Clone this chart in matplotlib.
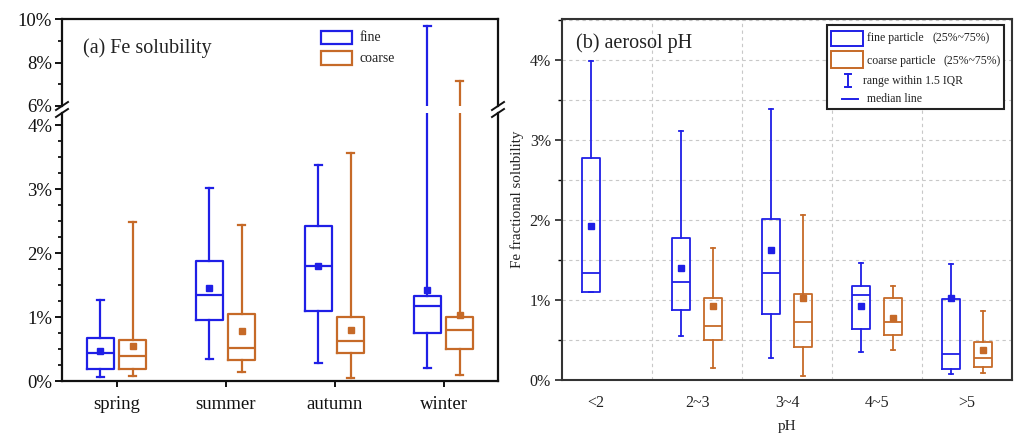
import matplotlib
matplotlib.use('Agg')
import matplotlib.pyplot as plt
from matplotlib.lines import Line2D
from matplotlib.patches import Rectangle
from matplotlib.ticker import MultipleLocator, FuncFormatter, FixedLocator

plt.rcParams['font.family'] = ['Liberation Serif', 'DejaVu Serif']

# ---------------- data: panel (a) Fe solubility by season (%) ----------------
seasons = ['spring', 'summer', 'autumn', 'winter']
a_fine_whislo = [0.07, 0.35, 0.28, 0.21]
a_fine_q1 = [0.18, 0.95, 1.10, 0.75]
a_fine_med = [0.43, 1.35, 1.80, 1.18]
a_fine_q3 = [0.68, 1.87, 2.43, 1.33]
a_fine_whishi = [1.27, 3.02, 3.38, 9.69]
a_fine_mean = [0.47, 1.46, 1.80, 1.42]

a_coarse_whislo = [0.08, 0.14, 0.05, 0.09]
a_coarse_q1 = [0.19, 0.33, 0.43, 0.50]
a_coarse_med = [0.39, 0.51, 0.62, 0.79]
a_coarse_q3 = [0.64, 1.05, 1.00, 1.00]
a_coarse_whishi = [2.48, 2.44, 3.56, 7.16]
a_coarse_mean = [0.55, 0.78, 0.79, 1.03]

# ---------------- data: panel (b) Fe solubility by aerosol pH (%) ----------------
ph_bins = ['<2', '2~3', '3~4', '4~5', '>5']
b_fine_whislo = [1.10, 0.55, 0.27, 0.35, 0.07]
b_fine_q1 = [1.10, 0.88, 0.83, 0.64, 0.14]
b_fine_med = [1.34, 1.23, 1.34, 1.06, 0.33]
b_fine_q3 = [2.77, 1.78, 2.01, 1.18, 1.01]
b_fine_whishi = [3.98, 3.11, 3.38, 1.46, 1.45]
b_fine_mean = [1.93, 1.40, 1.63, 0.93, 1.03]

b_coarse_whislo = [None, 0.15, 0.05, 0.37, 0.09]
b_coarse_q1 = [None, 0.50, 0.41, 0.56, 0.16]
b_coarse_med = [None, 0.68, 0.73, 0.72, 0.28]
b_coarse_q3 = [None, 1.03, 1.08, 1.02, 0.48]
b_coarse_whishi = [None, 1.65, 2.06, 1.18, 0.86]
b_coarse_mean = [None, 0.93, 1.02, 0.77, 0.37]

BLUE = '#1f1fe6'
ORANGE = '#c66a28'
TXT = '#222222'


def make_stats(lo, q1, med, q3, hi, mean, positions):
    stats, pos = [], []
    for i in range(len(med)):
        if med[i] is None:
            continue
        stats.append(dict(whislo=lo[i], q1=q1[i], med=med[i], q3=q3[i],
                          whishi=hi[i], mean=mean[i], fliers=[]))
        pos.append(positions[i])
    return stats, pos


def draw_boxes(ax, stats, pos, color, width, capw, lw, ms):
    ax.bxp(stats, positions=pos, widths=width, capwidths=capw,
           showmeans=True, showfliers=False, manage_ticks=False,
           boxprops=dict(color=color, lw=lw),
           whiskerprops=dict(color=color, lw=lw),
           capprops=dict(color=color, lw=lw),
           medianprops=dict(color=color, lw=lw),
           meanprops=dict(marker='s', markerfacecolor=color,
                          markeredgecolor=color, markersize=ms))


fig = plt.figure(figsize=(10.22, 4.45), dpi=100)
W, H = 1022.0, 445.0


def fbox(x0, y0, x1, y1):
    return [x0 / W, 1 - y1 / H, (x1 - x0) / W, (y1 - y0) / H]


# ---------------- panel (a): broken y axis ----------------
ax_up = fig.add_axes(fbox(62, 19, 498, 106))
ax_lo = fig.add_axes(fbox(62, 113, 498, 381))

xa = list(range(1, len(seasons) + 1))
off_a = 0.15
for ax in (ax_up, ax_lo):
    s, p = make_stats(a_fine_whislo, a_fine_q1, a_fine_med, a_fine_q3,
                      a_fine_whishi, a_fine_mean, [x - off_a for x in xa])
    draw_boxes(ax, s, p, BLUE, 0.25, 0.065, 1.6, 4.5)
    s, p = make_stats(a_coarse_whislo, a_coarse_q1, a_coarse_med, a_coarse_q3,
                      a_coarse_whishi, a_coarse_mean, [x + off_a for x in xa])
    draw_boxes(ax, s, p, ORANGE, 0.25, 0.065, 1.6, 4.5)
    ax.set_xlim(0.5, 4.5)
    for sp in ax.spines.values():
        sp.set_linewidth(1.6)
        sp.set_color('#111111')
    ax.yaxis.set_major_formatter(FuncFormatter(lambda v, _: f'{v:.0f}%'))
    ax.tick_params(axis='y', which='major', direction='out', length=5,
                   width=1.4, labelsize=13.5, colors='#111111', pad=2)
    ax.tick_params(axis='y', which='minor', direction='out', length=3, width=1.2)
    ax.tick_params(right=False, top=False)

ax_up.set_ylim(6, 10)
ax_up.yaxis.set_major_locator(MultipleLocator(2))
ax_up.yaxis.set_minor_locator(MultipleLocator(1))
ax_up.spines['bottom'].set_visible(False)
ax_up.tick_params(axis='x', bottom=False, labelbottom=False)

ax_lo.set_ylim(0, 4.19)
ax_lo.yaxis.set_major_locator(FixedLocator([0, 1, 2, 3, 4]))
ax_lo.yaxis.set_minor_locator(FixedLocator([i * 0.25 for i in range(17)]))
ax_lo.spines['top'].set_visible(False)
ax_lo.set_xticks(xa)
ax_lo.set_xticklabels(seasons)
ax_lo.tick_params(axis='x', direction='out', length=4, width=1.4,
                  labelsize=13.5, colors='#111111', pad=7)

# break marks
for xb in (62, 498):
    for yb in (106, 113):
        fig.add_artist(Line2D([(xb - 6) / W, (xb + 6) / W],
                              [1 - (yb + 4) / H, 1 - (yb - 4) / H],
                              color='#111111', lw=1.4, transform=fig.transFigure,
                              clip_on=False))

ax_up.text(0.048, 0.667, '(a) Fe solubility', transform=ax_up.transAxes,
           fontsize=14.5, va='center', ha='left', color=TXT)
# legend (a)
for (yy0, yy1, ty, col, lab) in [(31, 44, 37.5, BLUE, 'fine'),
                                 (51, 65, 58, ORANGE, 'coarse')]:
    ax_up.add_patch(Rectangle((0.594, (106 - yy1) / 87), 0.071, (yy1 - yy0) / 87,
                              transform=ax_up.transAxes, fill=False,
                              edgecolor=col, lw=1.6, clip_on=False))
    ax_up.text(0.683, (106 - ty) / 87, lab, transform=ax_up.transAxes,
               fontsize=10, va='center', ha='left', color=TXT)

# ---------------- panel (b) ----------------
axb = fig.add_axes(fbox(562, 19, 1012, 380))
xb_ = list(range(1, len(ph_bins) + 1))
off_b = 0.178
s, p = make_stats(b_fine_whislo, b_fine_q1, b_fine_med, b_fine_q3,
                  b_fine_whishi, b_fine_mean, [x - off_b for x in xb_])
draw_boxes(axb, s, p, BLUE, 0.2, 0.05, 1.3, 4)
s, p = make_stats(b_coarse_whislo, b_coarse_q1, b_coarse_med, b_coarse_q3,
                  b_coarse_whishi, b_coarse_mean, [x + off_b for x in xb_])
draw_boxes(axb, s, p, ORANGE, 0.2, 0.05, 1.3, 4)
axb.set_xlim(0.5, 5.5)
axb.set_ylim(0, 4.51)
axb.yaxis.set_major_locator(MultipleLocator(1))
axb.yaxis.set_minor_locator(MultipleLocator(0.5))
axb.yaxis.set_major_formatter(FuncFormatter(lambda v, _: f'{v:.0f}%'))
axb.yaxis.grid(True, which='both', ls=(0, (3, 3)), color='#c8c8c8', lw=0.8)
axb.xaxis.set_minor_locator(FixedLocator([1.5, 2.5, 3.5, 4.5]))
axb.xaxis.grid(True, which='minor', ls=(0, (3, 3)), color='#c8c8c8', lw=0.8)
axb.set_axisbelow(True)
label_shift = [-0.13, 0, 0, 0, 0]
axb.set_xticks([x + d for x, d in zip(xb_, label_shift)])
axb.set_xticklabels(ph_bins)
axb.tick_params(axis='x', which='both', length=0, labelsize=11.5,
                colors=TXT, pad=11)
axb.tick_params(axis='y', which='major', direction='out', length=5, width=1.2,
                labelsize=11.5, colors=TXT, pad=3)
axb.tick_params(axis='y', which='minor', direction='out', length=3, width=1.0)
for sp in axb.spines.values():
    sp.set_linewidth(1.5)
    sp.set_color('#333333')
axb.set_ylabel('Fe fractional solubility', fontsize=10.8, color=TXT, labelpad=4)
axb.set_xlabel('pH', fontsize=11, color=TXT, labelpad=6)
axb.text(0.031, 0.934, '(b) aerosol pH', transform=axb.transAxes,
         fontsize=14.5, va='center', ha='left', color=TXT)

# legend (b)
def bx(px):
    return (px - 562) / 450.0


def by(py):
    return (380 - py) / 361.0


axb.add_patch(Rectangle((bx(827), by(109)), bx(1004) - bx(827), by(25) - by(109),
                        transform=axb.transAxes, facecolor='white',
                        edgecolor='#222222', lw=1.5, zorder=5))
for (yy0, yy1, ty, col, lab, x2) in [(31, 46, 38, BLUE, 'fine particle', 932),
                                     (51, 68, 61, ORANGE, 'coarse particle', 943)]:
    axb.add_patch(Rectangle((bx(831), by(yy1)), bx(863) - bx(831), by(yy0) - by(yy1),
                            transform=axb.transAxes, fill=False,
                            edgecolor=col, lw=1.4, zorder=6))
    axb.text(bx(866.5), by(ty), lab, transform=axb.transAxes, fontsize=8.5,
             va='center', ha='left', color=TXT, zorder=6)
    axb.text(bx(x2), by(ty), '(25%~75%)', transform=axb.transAxes, fontsize=8.5,
             va='center', ha='left', color=TXT, zorder=6)
# whisker symbol
axb.add_line(Line2D([bx(847.7)] * 2, [by(74), by(87)], color=BLUE, lw=1.4,
                    transform=axb.transAxes, zorder=6))
for yy in (74, 87):
    axb.add_line(Line2D([bx(844.5), bx(851)], [by(yy)] * 2, color=BLUE, lw=1.4,
                        transform=axb.transAxes, zorder=6))
axb.text(bx(863.3), by(81), 'range within 1.5 IQR', transform=axb.transAxes,
         fontsize=8.5, va='center', ha='left', color=TXT, zorder=6)
axb.add_line(Line2D([bx(841.7), bx(858.3)], [by(99)] * 2, color=BLUE, lw=1.4,
                    transform=axb.transAxes, zorder=6))
axb.text(bx(866.5), by(99), 'median line', transform=axb.transAxes,
         fontsize=8.5, va='center', ha='left', color=TXT, zorder=6)

fig.savefig('out.png', dpi=100)
